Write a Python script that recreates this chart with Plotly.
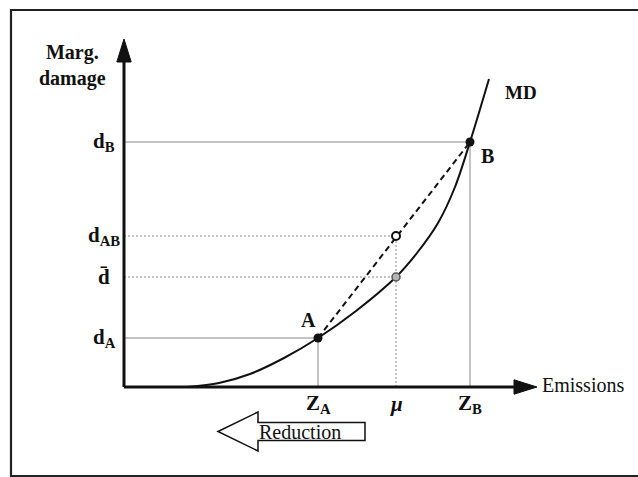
import plotly.graph_objects as go

# ---- data (arbitrary units) ----
z_labels = ["Z<sub>A</sub>", "<i>μ</i>", "Z<sub>B</sub>"]
z_values = [19.4, 27.2, 34.6]          # Z_A, mu, Z_B
d_labels = ["d<sub>A</sub>", "d̄", "d<sub>AB</sub>", "d<sub>B</sub>"]
d_values = [4.9, 11.0, 15.1, 24.5]      # d_A, d-bar, d_AB, d_B

# marginal damage curve (MD)
md_x = [6.3, 9.5, 12.6, 16.0, 19.4, 23.2, 27.2, 29.3, 31.4, 33.1, 34.6, 36.5]
md_y = [0.0, 0.4, 1.3, 2.9, 4.9, 7.6, 11.0, 13.4, 16.4, 20.0, 24.5, 30.8]

ZA, MU, ZB = z_values
dA, dbar, dAB, dB = d_values

# axis extents
x_axis_end = 41.3
y_axis_end = 34.8
head_len = 2.3
head_half = 0.72

# Reduction block arrow extents
red_tip, red_neck, red_end = 9.4, 13.4, 24.1
red_mid, red_head_half, red_body_half = -4.45, 1.95, 0.9

FONT = "Liberation Serif"
BLACK = "#111111"
GREY = "#8a8a8a"

fig = go.Figure()

def seg(x, y, dash="solid", color=GREY, width=1):
    fig.add_trace(go.Scatter(x=x, y=y, mode="lines", hoverinfo="skip",
                             line=dict(color=color, width=width, dash=dash)))

# guide lines
seg([0, ZB], [dB, dB])
seg([0, ZA], [dA, dA])
seg([ZA, ZA], [0, dA])
seg([ZB, ZB], [0, dB])
seg([0, MU], [dAB, dAB], dash="2px,2px")
seg([0, MU], [dbar, dbar], dash="2px,2px")
seg([MU, MU], [0, dAB], dash="2px,2px")

# MD curve
fig.add_trace(go.Scatter(x=md_x, y=md_y, mode="lines", hoverinfo="skip",
                         line=dict(color=BLACK, width=2, shape="spline", smoothing=0.9)))
# chord A-B
seg([ZA, ZB], [dA, dB], dash="6px,4px", color=BLACK, width=2)

# points
fig.add_trace(go.Scatter(x=[ZA, ZB], y=[dA, dB], mode="markers", hoverinfo="skip",
                         marker=dict(color=BLACK, size=9)))
fig.add_trace(go.Scatter(x=[MU], y=[dAB], mode="markers", hoverinfo="skip",
                         marker=dict(color="white", size=8, line=dict(color=BLACK, width=2))))
fig.add_trace(go.Scatter(x=[MU], y=[dbar], mode="markers", hoverinfo="skip",
                         marker=dict(color="#b5b5b5", size=8, line=dict(color="#555555", width=1.5))))

shapes = []
# axes
shapes.append(dict(type="line", x0=0, y0=0, x1=x_axis_end - head_len, y1=0,
                   line=dict(color=BLACK, width=3)))
shapes.append(dict(type="line", x0=0, y0=0, x1=0, y1=y_axis_end - head_len,
                   line=dict(color=BLACK, width=3)))
xb = x_axis_end - head_len
shapes.append(dict(type="path", path=f"M{xb},{head_half} L{x_axis_end},0 L{xb},{-head_half} Z",
                   fillcolor=BLACK, line=dict(color=BLACK, width=1)))
yb = y_axis_end - head_len
shapes.append(dict(type="path", path=f"M{-head_half},{yb} L0,{y_axis_end} L{head_half},{yb} Z",
                   fillcolor=BLACK, line=dict(color=BLACK, width=1)))
# Reduction arrow
p = (f"M{red_tip},{red_mid} L{red_neck},{red_mid + red_head_half} "
     f"L{red_neck},{red_mid + red_body_half} L{red_end},{red_mid + red_body_half} "
     f"L{red_end},{red_mid - red_body_half} L{red_neck},{red_mid - red_body_half} "
     f"L{red_neck},{red_mid - red_head_half} Z")
shapes.append(dict(type="path", path=p, fillcolor="white", line=dict(color=BLACK, width=1.5)))
# frame
shapes.append(dict(type="rect", xref="paper", yref="paper", x0=11/638, x1=1.05,
                   y0=1/477, y1=1 - 10/477, line=dict(color="#222222", width=2.2), layer="below"))

ann = []
def text(x, y, s, size=20, bold=False, xanchor="center", yanchor="middle", xshift=0, yshift=0):
    ann.append(dict(x=x, y=y, text=f"<b>{s}</b>" if bold else s, showarrow=False,
                    xanchor=xanchor, yanchor=yanchor, xshift=xshift, yshift=yshift,
                    font=dict(family=FONT, size=size, color=BLACK)))

text(-5.2, 32.2, "Marg.<br>damage", size=20, bold=True)
for lab, v in zip(d_labels, d_values):
    text(-2.0, v, lab, size=21, bold=True)
for lab, v in zip(z_labels, z_values):
    text(v, -1.7, lab, size=21, bold=True)
text(x_axis_end + 0.3, 0.2, "Emissions", size=20, xanchor="left")
text(ZA, dA, "A", size=20, bold=True, xshift=-10, yshift=18)
text(ZB, dB, "B", size=20, bold=True, xshift=17, yshift=-14)
text(md_x[-1], md_y[-1], "MD", size=19, bold=True, xshift=32, yshift=-13)
text(red_neck - 0.1, red_mid, "Reduction", size=20, xanchor="left")

fig.update_layout(
    width=638, height=477, margin=dict(l=0, r=0, t=0, b=0),
    paper_bgcolor="white", plot_bgcolor="white", showlegend=False,
    xaxis=dict(visible=False, range=[-12.4, 51.4], fixedrange=True),
    yaxis=dict(visible=False, range=[-9.0, 38.7], fixedrange=True),
    shapes=shapes, annotations=ann,
)
fig.write_html("out.html", config={"displayModeBar": False},
               post_script="document.body.style.margin='0';document.body.style.overflow='hidden';")
